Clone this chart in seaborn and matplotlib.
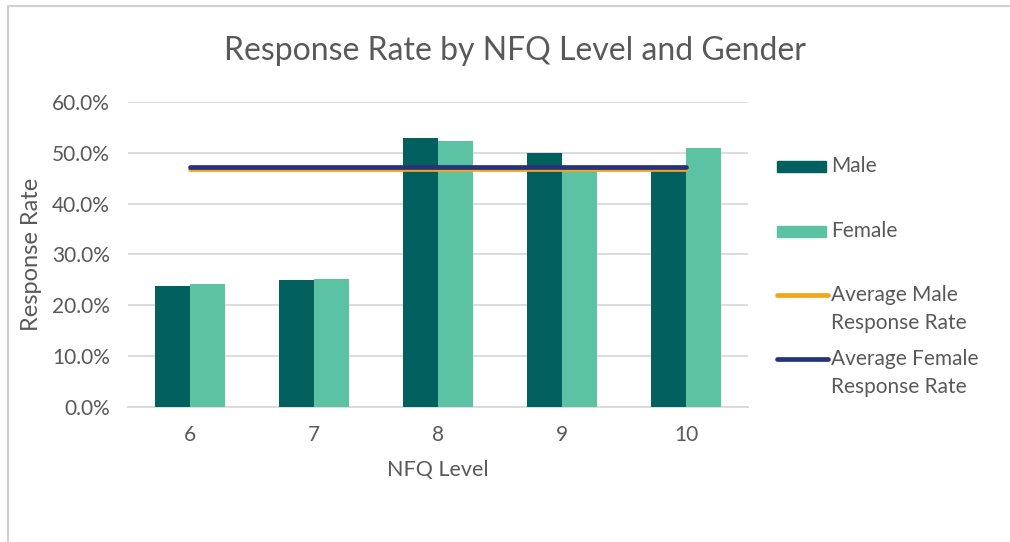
import pandas as pd
import matplotlib.pyplot as plt
import seaborn as sns
import numpy as np
from matplotlib.patches import Rectangle
from matplotlib.lines import Line2D

# data
levels = ['6', '7', '8', '9', '10']
male_rate = [0.239, 0.249, 0.529, 0.500, 0.468]
female_rate = [0.241, 0.251, 0.524, 0.470, 0.509]
avg_male = 0.469
avg_female = 0.473

male_col = '#02605F'
female_col = '#5BC2A4'
avg_male_col = '#F7A21B'
avg_female_col = '#283279'
txt = '#595959'

df = pd.DataFrame({
    'NFQ Level': levels * 2,
    'Response Rate': male_rate + female_rate,
    'Gender': ['Male'] * len(levels) + ['Female'] * len(levels),
})

sns.set_style('white')
plt.rcParams['font.family'] = ['Lato', 'DejaVu Sans']

W, H = 1010, 542
fig = plt.figure(figsize=(W / 100, H / 100), dpi=100)
ax = fig.add_axes([128 / W, 1 - 407 / H, 620 / W, 305 / H])

sns.barplot(data=df, x='NFQ Level', y='Response Rate', hue='Gender',
            order=levels, hue_order=['Male', 'Female'],
            palette=[male_col, female_col], width=0.57, saturation=1,
            linewidth=0, ax=ax, legend=False, zorder=3)

xs = np.arange(len(levels))
ax.plot(xs, [avg_male] * len(levels), color=avg_male_col, lw=3.4,
        solid_capstyle='round', zorder=4)
ax.plot(xs, [avg_female] * len(levels), color=avg_female_col, lw=3.4,
        solid_capstyle='round', zorder=5)

ax.set_ylim(0, 0.6)
ax.set_xlim(-0.5, len(levels) - 0.5)
ax.set_yticks(np.arange(0, 0.61, 0.1))
ax.set_yticklabels([f'{v * 100:.1f}%' for v in np.arange(0, 0.61, 0.1)])
ax.yaxis.grid(True, color='#D9D9D9', lw=1.3, zorder=0)
ax.set_axisbelow(True)
for s in ['top', 'right', 'left']:
    ax.spines[s].set_visible(False)
ax.spines['bottom'].set_color('#D9D9D9')
ax.spines['bottom'].set_linewidth(1.3)
ax.tick_params(axis='both', length=0, labelsize=15, colors=txt)
ax.tick_params(axis='y', pad=13)
ax.tick_params(axis='x', pad=13)
ax.set_xlabel('NFQ Level', fontsize=15.5, color=txt, labelpad=11)
ax.set_ylabel('Response Rate', fontsize=17, color=txt, labelpad=7)

fig.text(515 / W, 1 - 51 / H, 'Response Rate by NFQ Level and Gender',
         ha='center', va='center', fontsize=23, color=txt)

# legend drawn by hand, in pixel positions
def fx(x):
    return x / W

def fy(y):
    return 1 - y / H

fig.add_artist(Rectangle((fx(777), fy(172)), 49 / W, 11 / H,
                         transform=fig.transFigure, color=male_col))
fig.add_artist(Rectangle((fx(777), fy(237)), 49 / W, 11 / H,
                         transform=fig.transFigure, color=female_col))
fig.add_artist(Line2D([fx(777), fx(828)], [fy(295), fy(295)], color=avg_male_col,
                      lw=3.4, solid_capstyle='round', transform=fig.transFigure))
fig.add_artist(Line2D([fx(777), fx(828)], [fy(359), fy(359)], color=avg_female_col,
                      lw=3.4, solid_capstyle='round', transform=fig.transFigure))
leg_kw = dict(fontsize=15, color=txt, ha='left', va='center')
fig.text(fx(831), fy(166), 'Male', **leg_kw)
fig.text(fx(831), fy(231), 'Female', **leg_kw)
fig.text(fx(831), fy(295), 'Average Male', **leg_kw)
fig.text(fx(831), fy(323), 'Response Rate', **leg_kw)
fig.text(fx(831), fy(359), 'Average Female', **leg_kw)
fig.text(fx(831), fy(387), 'Response Rate', **leg_kw)

# chart frame (left and top edges only)
fig.add_artist(Line2D([fx(8), fx(8)], [fy(6), 0], color='#D0D0D0', lw=1.5,
                      transform=fig.transFigure))
fig.add_artist(Line2D([fx(8), 1], [fy(6), fy(6)], color='#D0D0D0', lw=1.5,
                      transform=fig.transFigure))

fig.savefig('out.png', dpi=100)
